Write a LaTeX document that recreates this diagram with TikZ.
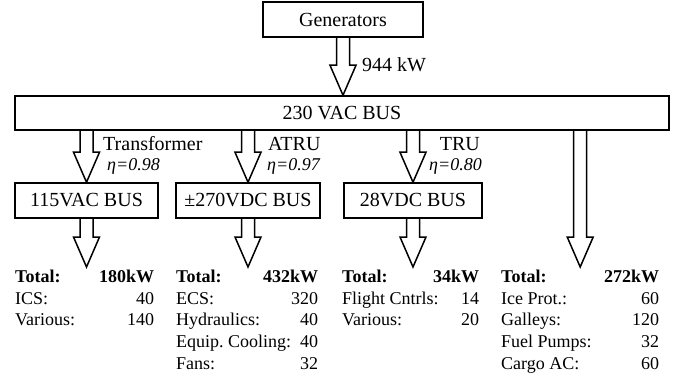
\documentclass[tikz,border=0pt]{standalone}
\usepackage{fontspec}
\setmainfont{Liberation Serif}
\usetikzlibrary{calc}
\frenchspacing

\tikzset{
  busbox/.style={draw, line width=1.5pt, minimum height=35pt, inner sep=0pt,
    font=\fontsize{20}{24}\selectfont},
  flow/.style={line width=1.5pt, line join=miter},
  lbl/.style={inner sep=0pt, font=\fontsize{20}{24}\selectfont},
  eff/.style={inner sep=0pt, font=\fontsize{18}{22}\selectfont\itshape},
  loads/.style={inner sep=0pt, anchor=north west, font=\fontsize{18}{21.7}\selectfont}
}

% block arrow from #1 down to the tip #2
\newcommand{\powerarrow}[2]{%
  \draw[flow] let \p1=(#1), \p2=(#2) in
    (\x1-6.5pt,\y1) -- (\x1-6.5pt,\y2+30pt) -- (\x1-13pt,\y2+30pt) -- (\x1,\y2)
    -- (\x1+13pt,\y2+30pt) -- (\x1+6.5pt,\y2+30pt) -- (\x1+6.5pt,\y1);}
% first line of a load table
\newcommand{\totalrow}[1]{\multicolumn{2}{@{}l@{}}{\textbf{Total:}\hfill\textbf{#1}}}

\begin{document}
\begin{tikzpicture}[x=1pt,y=-1pt]
  \useasboundingbox (0,0) rectangle (688,377);

  % buses
  \node[busbox, minimum width=160pt] (gen) at (343,19.5) {Generators};
  \node[busbox, minimum width=654pt, minimum height=34pt] (bus) at (342,113) {230 VAC BUS};
  \node[busbox, minimum width=143pt] (ac115) at (86.5,200.5) {115VAC BUS};
  \node[busbox, minimum width=144pt] (dc270) at (248,200.5) {±270VDC BUS};
  \node[busbox, minimum width=138pt] (dc28) at (413,200.5) {28VDC BUS};

  % loads
  \node[loads] (t1) at (15,267) {\begin{tabular*}{139pt}{@{}l@{\extracolsep{\fill}}r@{}}
    \totalrow{180kW}\\
    ICS: & 40\\
    Various: & 140
  \end{tabular*}};
  \node[loads] (t2) at (176,267) {\begin{tabular*}{139pt}{@{}l@{\extracolsep{\fill}}r@{}}
    \totalrow{432kW}\\
    ECS: & 320\\
    Hydraulics: & 40\\
    Equip. Cooling: & 40\\
    Fans: & 32
  \end{tabular*}};
  \node[loads] (t3) at (342,267) {\begin{tabular*}{137pt}{@{}l@{\extracolsep{\fill}}r@{}}
    \totalrow{34kW}\\
    Flight Cntrls: & 14\\
    Various: & 20
  \end{tabular*}};
  \node[loads] (t4) at (501,267) {\begin{tabular*}{158pt}{@{}l@{\extracolsep{\fill}}r@{}}
    \totalrow{272kW}\\
    Ice Prot.: & 60\\
    Galleys: & 120\\
    Fuel Pumps: & 32\\
    Cargo AC: & 60
  \end{tabular*}};

  % arrows
  \powerarrow{gen.south}{bus.north}
  \powerarrow{ac115.north |- bus.south}{ac115.north}
  \powerarrow{dc270.north |- bus.south}{dc270.north}
  \powerarrow{dc28.north |- bus.south}{dc28.north}
  \powerarrow{t4.north |- bus.south}{t4.north}
  \powerarrow{ac115.south}{t1.north}
  \powerarrow{dc270.south}{t2.north}
  \powerarrow{dc28.south}{t3.north}

  % labels
  \node[lbl, anchor=base west] (pgen) at (362,72) {944 kW};
  \node[lbl, anchor=base west] (trf) at (103,150) {Transformer};
  \node[eff, anchor=base west] (etrf) at (107,170) {η=0.98};
  \node[lbl, anchor=base west] (atru) at (268,150) {ATRU};
  \node[eff, anchor=base west] (eatru) at (267,170) {η=0.97};
  \node[lbl, anchor=base east] (tru) at (480,150) {TRU};
  \node[eff, anchor=base east] (etru) at (482,170) {η=0.80};
\end{tikzpicture}
\end{document}
